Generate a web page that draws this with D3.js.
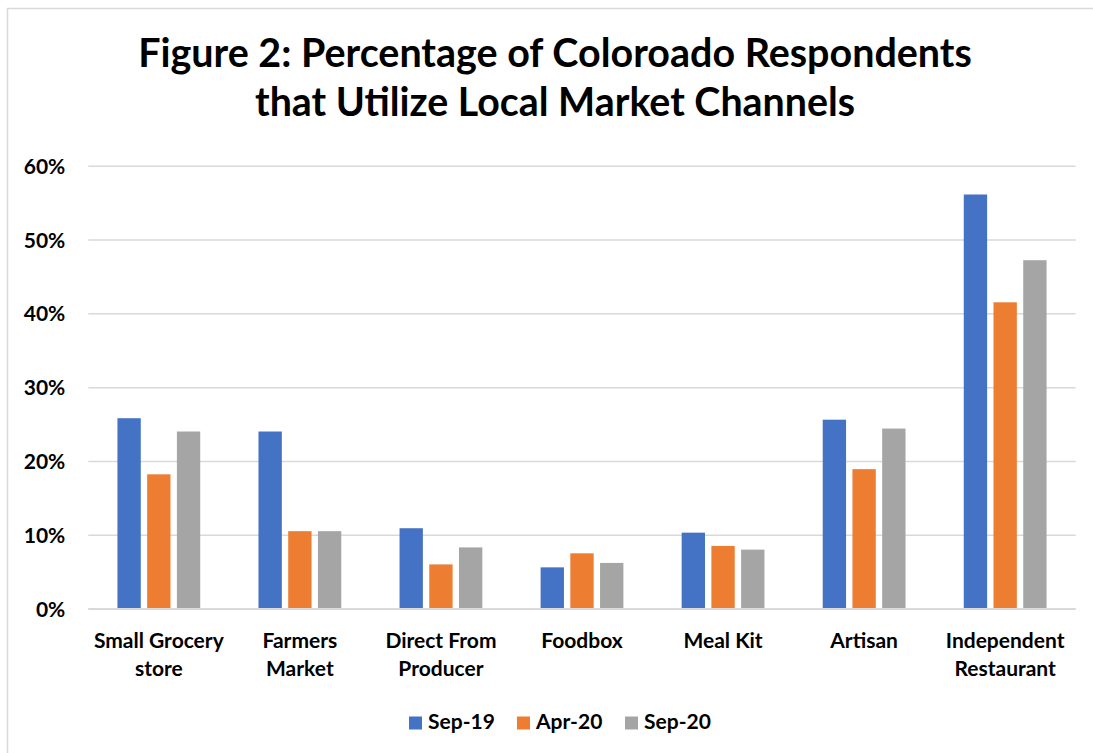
<!DOCTYPE html>
<html>
<head>
<meta charset="utf-8">
<script src="https://cdn.jsdelivr.net/npm/d3@7"></script>
<style>
  html, body { margin: 0; padding: 0; background: #ffffff; }
  svg { display: block; }
  text { font-family: Lato, "Open Sans", "Noto Sans", sans-serif; font-weight: 700; fill: #000; }
</style>
</head>
<body>
<svg id="chart" width="1093" height="753"></svg>
<script>
// Local market channels and survey waves
const categories = [
  ["Small Grocery", "store"],
  ["Farmers", "Market"],
  ["Direct From", "Producer"],
  ["Foodbox"],
  ["Meal Kit"],
  ["Artisan"],
  ["Independent", "Restaurant"]
];
const seriesNames = ["Sep-19", "Apr-20", "Sep-20"];
const seriesColors = ["#4472C4", "#ED7D31", "#A5A5A5"];

// Share of respondents using each channel, per wave
const sep19 = [0.258, 0.240, 0.109, 0.056, 0.103, 0.256, 0.561];
const apr20 = [0.182, 0.105, 0.060, 0.075, 0.085, 0.189, 0.415];
const sep20 = [0.240, 0.105, 0.083, 0.062, 0.080, 0.244, 0.472];

const yTicks = [0, 0.1, 0.2, 0.3, 0.4, 0.5, 0.6];
const titleLines = [
  "Figure 2: Percentage of Coloroado Respondents",
  "that Utilize Local Market Channels"
];

const values = [sep19, apr20, sep20];
const svg = d3.select("#chart");

// outer frame of the chart area
svg.append("rect")
  .attr("x", 7.5).attr("y", 8.5)
  .attr("width", 1110).attr("height", 760)
  .attr("fill", "#fff")
  .attr("stroke", "#d9d9d9").attr("stroke-width", 1.5);

// fit a text element to a target width by adjusting its font size
function fitWidth(sel, target, base) {
  sel.attr("font-size", base);
  const w = sel.node().getComputedTextLength();
  sel.attr("font-size", base * target / w);
}

// title
const titleY = [67, 116];
const titleW = [834, 600];
titleLines.forEach((t, i) => {
  const el = svg.append("text")
    .attr("x", 555).attr("y", titleY[i])
    .attr("text-anchor", "middle")
    .text(t);
  fitWidth(el, titleW[i], 36);
});

// scales
const plotLeft = 88.3, plotRight = 1075.7, plotTop = 165.7, plotBottom = 608.7;
const x = d3.scaleBand()
  .domain(d3.range(categories.length))
  .range([plotLeft, plotRight])
  .paddingInner(0).paddingOuter(0);
const y = d3.scaleLinear().domain([0, 0.6]).range([plotBottom, plotTop]);

// gridlines (y axis with full-width ticks)
const yAxis = d3.axisLeft(y)
  .tickValues(yTicks)
  .tickSize(-(plotRight - plotLeft))
  .tickFormat(d3.format(".0%"));
const gy = svg.append("g")
  .attr("transform", `translate(${plotLeft},0)`)
  .call(yAxis);
gy.select(".domain").remove();
gy.selectAll(".tick line")
  .attr("stroke", "#d9d9d9").attr("stroke-width", 1.5);
gy.selectAll(".tick text")
  .attr("x", -23)
  .attr("dy", "0.36em")
  .attr("font-size", 21)
  .style("font-family", "Lato, 'Open Sans', sans-serif")
  .style("font-weight", 700)
  .attr("fill", "#000");

// bars: three series within each category band
const inner = d3.scaleBand()
  .domain(d3.range(seriesNames.length))
  .range([0, x.bandwidth()])
  .paddingOuter(0.98)
  .paddingInner(0.215);

const groups = svg.append("g").selectAll("g")
  .data(seriesNames)
  .join("g")
  .attr("fill", (d, i) => seriesColors[i]);

groups.each(function(name, si) {
  d3.select(this).selectAll("rect")
    .data(values[si])
    .join("rect")
    .attr("x", (d, ci) => x(ci) + inner(si))
    .attr("width", inner.bandwidth())
    .attr("y", d => y(d))
    .attr("height", d => y(0) - y(d));
});

// baseline over the bars
svg.append("line")
  .attr("x1", plotLeft).attr("x2", plotRight)
  .attr("y1", y(0)).attr("y2", y(0))
  .attr("stroke", "#d9d9d9").attr("stroke-width", 1.5);

// category labels
const labelG = svg.append("g");
categories.forEach((lines, ci) => {
  const t = labelG.append("text")
    .attr("x", x(ci) + x.bandwidth() / 2)
    .attr("y", 648)
    .attr("text-anchor", "middle")
    .attr("font-size", 21);
  lines.forEach((ln, li) => {
    t.append("tspan")
      .attr("x", x(ci) + x.bandwidth() / 2)
      .attr("dy", li === 0 ? 0 : 28)
      .text(ln);
  });
});

// legend
const legendX = [409, 517, 625];
const legend = svg.append("g");
seriesNames.forEach((name, i) => {
  legend.append("rect")
    .attr("x", legendX[i]).attr("y", 716.5)
    .attr("width", 13).attr("height", 13)
    .attr("fill", seriesColors[i]);
  legend.append("text")
    .attr("x", legendX[i] + 19).attr("y", 729)
    .attr("font-size", 21)
    .text(name);
});
</script>
</body>
</html>
